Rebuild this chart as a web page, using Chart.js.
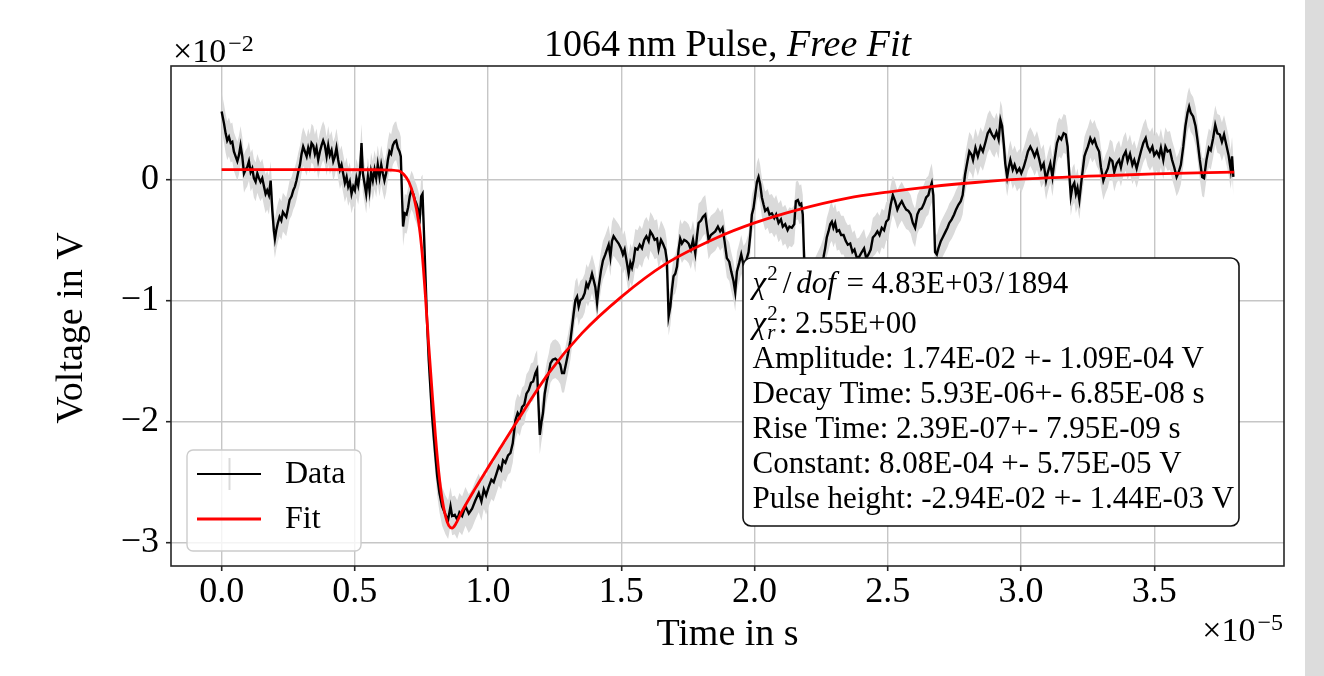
<!DOCTYPE html>
<html>
<head>
<meta charset="utf-8">
<title>1064 nm Pulse, Free Fit</title>
<script src="https://cdn.jsdelivr.net/npm/chart.js@4.4.0/dist/chart.umd.min.js"></script>
<style>
  html, body { margin: 0; padding: 0; background: #fff; }
  #wrap { position: relative; width: 1324px; height: 676px; overflow: hidden; }
  #pulseChart { position: absolute; left: 0; top: 0; }
  #strip { position: absolute; left: 1305px; top: 0; width: 19px; height: 676px; background: #dcdcdc; }
</style>
</head>
<body>
<div id="wrap">
  <canvas id="pulseChart" width="1305" height="676"></canvas>
  <div id="strip"></div>
</div>
<script>
// time in units of 1e-5 s, voltage in units of 1e-2 V
const dataTime = [
  0, 0.009, 0.015, 0.021, 0.0275, 0.034, 0.04, 0.046, 0.0525, 0.059,
  0.065, 0.071, 0.0775, 0.084, 0.09, 0.096, 0.1025, 0.109, 0.115, 0.121,
  0.1275, 0.134, 0.14, 0.146, 0.1525, 0.159, 0.165, 0.171, 0.1775, 0.184,
  0.19, 0.196, 0.2, 0.205, 0.211, 0.2175, 0.224, 0.23, 0.236, 0.2425,
  0.249, 0.255, 0.2625, 0.269, 0.275, 0.281, 0.2875, 0.294, 0.3, 0.306,
  0.3125, 0.319, 0.325, 0.331, 0.3375, 0.344, 0.35, 0.356, 0.3625, 0.369,
  0.375, 0.381, 0.3875, 0.394, 0.4, 0.406, 0.4125, 0.419, 0.425, 0.431,
  0.4375, 0.444, 0.45, 0.456, 0.4625, 0.469, 0.475, 0.481, 0.4875, 0.494,
  0.5, 0.506, 0.5125, 0.519, 0.525, 0.53, 0.536, 0.5425, 0.549, 0.555,
  0.561, 0.5675, 0.574, 0.58, 0.586, 0.5925, 0.599, 0.605, 0.611, 0.6175,
  0.624, 0.63, 0.636, 0.6425, 0.649, 0.655, 0.661, 0.6675, 0.6725, 0.6775,
  0.681, 0.6875, 0.694, 0.7, 0.706, 0.7125, 0.719, 0.725, 0.731, 0.7375,
  0.744, 0.749, 0.754, 0.759, 0.765, 0.771, 0.7775, 0.784, 0.79, 0.796,
  0.8025, 0.809, 0.8175, 0.8275, 0.84, 0.85, 0.859, 0.865, 0.875, 0.884,
  0.8925, 0.9025,
  0.915, 0.9275, 0.94, 0.9525, 0.965, 0.975, 0.984, 0.9925, 1.0025, 1.0125,
  1.021, 1.03, 1.04, 1.049, 1.056, 1.065, 1.075, 1.084, 1.0925, 1.1025,
  1.111, 1.119, 1.1275, 1.136, 1.144, 1.1525, 1.161, 1.169, 1.1775, 1.184,
  1.1875, 1.194, 1.2, 1.206, 1.2125, 1.221, 1.2275, 1.234, 1.2425, 1.2525,
  1.2625, 1.271, 1.2775, 1.285, 1.2925, 1.3, 1.309, 1.315, 1.321, 1.3275,
  1.334, 1.34, 1.346, 1.355, 1.3625, 1.369, 1.375, 1.384, 1.39, 1.396,
  1.4025, 1.409, 1.415, 1.424, 1.431, 1.44, 1.446, 1.4525, 1.459, 1.465,
  1.471, 1.48, 1.49, 1.499, 1.506, 1.5125, 1.521, 1.5275, 1.534, 1.54,
  1.546, 1.5525, 1.561, 1.569, 1.5775, 1.586, 1.594, 1.6025, 1.609, 1.6175,
  1.625, 1.634, 1.64, 1.649, 1.656, 1.665, 1.671, 1.6775, 1.684, 1.69,
  1.696, 1.7025, 1.709, 1.715, 1.721, 1.7275, 1.736, 1.744, 1.7525, 1.761,
  1.769, 1.7775, 1.784, 1.79, 1.799, 1.806, 1.815, 1.821, 1.8275, 1.836,
  1.8525, 1.8625, 1.871, 1.88, 1.8875, 1.896, 1.905, 1.9125, 1.921, 1.9275,
  1.934, 1.9425, 1.95, 1.959, 1.9675, 1.9775, 1.984, 1.99, 1.996, 2.0025,
  2.009, 2.015, 2.021, 2.0275, 2.034, 2.04, 2.049, 2.056, 2.065, 2.074,
  2.081, 2.09, 2.099, 2.106, 2.115, 2.124, 2.131, 2.14, 2.149, 2.155,
  2.1625, 2.169, 2.175, 2.181, 2.186, 2.195, 2.21, 2.225, 2.24, 2.25,
  2.259, 2.265, 2.271, 2.2775, 2.284, 2.29, 2.296, 2.3025, 2.309, 2.3175,
  2.325, 2.334, 2.3425, 2.35, 2.359, 2.3675, 2.375, 2.384, 2.3925, 2.4025,
  2.411, 2.419, 2.4275, 2.436, 2.444, 2.4525, 2.461, 2.469, 2.4775, 2.486,
  2.494, 2.5025, 2.511, 2.519, 2.5275, 2.536, 2.544, 2.5525, 2.561, 2.569,
  2.5775, 2.586, 2.594, 2.6025, 2.611, 2.619, 2.6275, 2.636, 2.644, 2.6525,
  2.659, 2.665, 2.671, 2.6775, 2.684, 2.69, 2.699, 2.706, 2.715, 2.724,
  2.731, 2.74, 2.749, 2.756, 2.765, 2.774, 2.781, 2.79, 2.799, 2.806,
  2.815, 2.82, 2.829, 2.838, 2.848, 2.857, 2.867, 2.875, 2.883, 2.891,
  2.9, 2.908, 2.916, 2.923, 2.929, 2.935, 2.941, 2.948, 2.954, 2.96,
  2.969, 2.976, 2.985, 2.994, 3.001, 3.01, 3.019, 3.026, 3.035, 3.044,
  3.051, 3.06, 3.069, 3.076, 3.085, 3.094, 3.101, 3.11, 3.118, 3.126,
  3.135, 3.143, 3.151, 3.16, 3.168, 3.175, 3.181, 3.187, 3.193, 3.2,
  3.206, 3.212, 3.219, 3.226, 3.232, 3.238, 3.244, 3.251, 3.26, 3.268,
  3.276, 3.284, 3.293, 3.3, 3.309, 3.318, 3.326, 3.334, 3.343, 3.35,
  3.359, 3.368, 3.375, 3.384, 3.393, 3.4, 3.409, 3.418, 3.425, 3.434,
  3.443, 3.45, 3.459, 3.468, 3.475, 3.484, 3.493, 3.5, 3.509, 3.518,
  3.525, 3.534, 3.542, 3.55, 3.559, 3.567, 3.575, 3.584, 3.592, 3.6,
  3.609, 3.617, 3.625, 3.631, 3.637, 3.646, 3.655, 3.662, 3.671, 3.68,
  3.687, 3.696, 3.705, 3.712, 3.721, 3.729, 3.737, 3.746, 3.754, 3.762,
  3.771, 3.779, 3.787, 3.792, 3.797
];
const dataVolt = [
  0.56, 0.46, 0.38, 0.32, 0.35, 0.30, 0.31, 0.23, 0.19, 0.15,
  0.20, 0.28, 0.19, 0.05, 0.08, 0.10, 0.15, 0.06, 0.09, 0.01,
  -0.02, 0.05, 0.01, -0.02, 0.01, -0.06, -0.12, -0.09, -0.13, -0.01,
  -0.25, -0.42, -0.49, -0.42, -0.36, -0.31, -0.34, -0.27, -0.29, -0.31,
  -0.24, -0.17, -0.14, -0.09, -0.06, -0.01, 0.06, 0.12, 0.21, 0.27,
  0.23, 0.19, 0.26, 0.21, 0.30, 0.28, 0.21, 0.26, 0.16, 0.23,
  0.28, 0.32, 0.28, 0.19, 0.28, 0.20, 0.24, 0.15, 0.19, 0.26,
  0.16, 0.08, 0.12, 0.05, -0.03, 0.02, -0.06, -0.02, -0.12, -0.06,
  -0.09, 0.01, -0.05, 0.05, 0.30, 0.05, -0.03, -0.12, 0.02, -0.09,
  0.06, -0.01, 0.08, 0.01, 0.12, 0.02, 0.12, 0.05, -0.01, 0.05,
  0.16, 0.23, 0.21, 0.28, 0.31, 0.32, 0.26, 0.23, 0.19, -0.17,
  -0.39, -0.28, -0.29, -0.23, -0.14, -0.09, -0.12, -0.17, -0.20, -0.25,
  -0.31, -0.14, -0.12, -0.42, -0.80, -1.18, -1.50, -1.74, -1.96, -2.12,
  -2.29, -2.45, -2.59, -2.70, -2.77, -2.81, -2.70, -2.78, -2.77, -2.81,
  -2.75, -2.78,
  -2.70, -2.76, -2.72, -2.65, -2.59, -2.66, -2.56, -2.61, -2.54, -2.48,
  -2.50, -2.44, -2.37, -2.40, -2.32, -2.34, -2.28, -2.26, -2.18, -1.99,
  -1.93, -1.96, -1.88, -1.86, -1.77, -1.74, -1.68, -1.67, -1.60, -1.57,
  -1.77, -2.11, -2.01, -1.93, -1.77, -1.66, -1.60, -1.52, -1.49, -1.48,
  -1.50, -1.53, -1.60, -1.60, -1.52, -1.44, -1.33, -1.22, -1.11, -1.00,
  -0.97, -1.05, -1.00, -0.98, -0.94, -0.86, -0.89, -0.83, -0.78, -0.83,
  -0.89, -1.02, -0.89, -0.75, -0.67, -0.62, -0.58, -0.54, -0.64, -0.51,
  -0.47, -0.50, -0.53, -0.57, -0.62, -0.58, -0.69, -0.78, -0.69, -0.73,
  -0.67, -0.57, -0.58, -0.54, -0.57, -0.50, -0.47, -0.51, -0.43, -0.46,
  -0.50, -0.49, -0.58, -0.50, -0.53, -0.58, -0.67, -1.13, -1.05, -0.91,
  -0.80, -0.78, -0.72, -0.58, -0.49, -0.53, -0.50, -0.51, -0.53, -0.58,
  -0.50, -0.61, -0.47, -0.36, -0.34, -0.31, -0.29, -0.39, -0.50, -0.46,
  -0.43, -0.39, -0.43, -0.40, -0.51, -0.65, -0.68, -0.76, -0.84, -0.93,
  -0.76, -0.69, -0.62, -0.71, -0.68, -0.60, -0.46, -0.29, -0.24, -0.13,
  -0.02, 0.02, -0.04, -0.15, -0.21, -0.26, -0.24, -0.29, -0.28, -0.32,
  -0.29, -0.36, -0.33, -0.39, -0.37, -0.42, -0.39, -0.40, -0.37, -0.18,
  -0.17, -0.21, -0.20, -0.29, -0.65, -0.85, -0.90, -0.82, -0.75, -0.70,
  -0.64, -0.57, -0.48, -0.43, -0.37, -0.35, -0.40, -0.36, -0.43, -0.42,
  -0.46, -0.46, -0.51, -0.54, -0.53, -0.60, -0.58, -0.65, -0.64, -0.60,
  -0.57, -0.65, -0.62, -0.58, -0.48, -0.46, -0.43, -0.46, -0.40, -0.42,
  -0.35, -0.33, -0.21, -0.13, -0.18, -0.25, -0.21, -0.18, -0.22, -0.25,
  -0.26, -0.29, -0.36, -0.40, -0.29, -0.25, -0.24, -0.20, -0.15, -0.13,
  -0.07, -0.03, -0.13, -0.60, -0.62, -0.57, -0.51, -0.48, -0.44, -0.40,
  -0.36, -0.33, -0.29, -0.25, -0.21, -0.18, -0.13, 0.04, 0.15, 0.23,
  0.20, 0.16, 0.26, 0.19, 0.27, 0.23, 0.31, 0.38, 0.41, 0.37,
  0.34, 0.39, 0.33, 0.49, 0.44, 0.30, 0.13, 0.02, 0.10, 0.16,
  0.08, 0.12, 0.06, 0.09, 0.05, 0.10, 0.17, 0.23, 0.27, 0.23,
  0.19, 0.24, 0.16, 0.09, 0.13, -0.01, 0.06, 0.13, 0.02, 0.16,
  0.30, 0.35, 0.33, 0.38, 0.37, 0.27, 0.05, -0.14, -0.06, -0.03,
  -0.12, -0.07, -0.17, -0.03, 0.08, 0.19, 0.23, 0.27, 0.34, 0.30,
  0.33, 0.27, 0.23, 0.10, -0.01, 0.05, 0.09, 0.17, 0.15, 0.06,
  0.13, 0.16, 0.10, 0.19, 0.23, 0.15, 0.21, 0.12, 0.16, 0.09,
  0.17, 0.23, 0.30, 0.34, 0.27, 0.23, 0.27, 0.20, 0.23, 0.19,
  0.26, 0.16, 0.27, 0.23, 0.24, 0.16, 0.10, 0.02, 0.06, 0.12,
  0.27, 0.44, 0.55, 0.60, 0.55, 0.52, 0.44, 0.33, 0.16, 0.02,
  0.01, 0.16, 0.26, 0.24, 0.34, 0.45, 0.38, 0.37, 0.31, 0.37,
  0.28, 0.20, 0.08, 0.19, 0.02
];
// measurement uncertainty per point (same units as dataVolt)
const voltErr = 0.16;

// fitted pulse model, sampled
const fitTime = [
  0, 0.3, 0.6, 0.665, 0.684, 0.7025, 0.721, 0.74, 0.7525, 0.765,
  0.7775, 0.79, 0.8025, 0.815, 0.8275, 0.84, 0.8525, 0.865, 0.8775, 0.9025,
  0.9525, 1.0, 1.1025, 1.2275, 1.3525, 1.5, 1.665, 1.85, 2.0, 2.165,
  2.35, 2.5, 2.665, 2.8275, 3.0, 3.31, 3.5, 3.8
];
const fitVolt = [
  0.081, 0.081, 0.079, 0.07, 0.04, -0.02, -0.14, -0.36, -0.61, -0.97,
  -1.38, -1.76, -2.12, -2.42, -2.64, -2.78, -2.86, -2.88, -2.85, -2.74,
  -2.55, -2.38, -2.02, -1.60, -1.27, -0.97, -0.70, -0.49, -0.36, -0.25,
  -0.155, -0.105, -0.06, -0.026, 0.002, 0.03, 0.045, 0.06
];

const xTicks = [0, 0.5, 1.0, 1.5, 2.0, 2.5, 3.0, 3.5];
const xTickLabels = ['0.0', '0.5', '1.0', '1.5', '2.0', '2.5', '3.0', '3.5'];
const yTicks = [-3, -2, -1, 0];
const yTickLabels = ['\u22123', '\u22122', '\u22121', '0'];

const chi2Text = '4.83E+03';
const dofText = '1894';
const chi2rText = '2.55E+00';
const paramLines = [
  'Amplitude: 1.74E-02 +- 1.09E-04 V',
  'Decay Time: 5.93E-06+- 6.85E-08 s',
  'Rise Time: 2.39E-07+- 7.95E-09 s',
  'Constant: 8.08E-04 +- 5.75E-05 V',
  'Pulse height: -2.94E-02 +- 1.44E-03 V'
];

const FONT = '"Liberation Serif", "DejaVu Serif", serif';
Chart.defaults.font.family = FONT;
Chart.defaults.color = '#000';

const toPoints = (xs, ys) => xs.map((x, i) => ({ x: x, y: ys[i] }));
const bandHi = dataVolt.map(v => v + voltErr);
const bandLo = dataVolt.map(v => v - voltErr);

// draws a run of text pieces (roman / italic / raised / lowered) on one baseline
function drawRuns(ctx, x, y, parts) {
  for (const p of parts) {
    ctx.font = (p.i ? 'italic ' : '') + (p.s || 31) + 'px ' + FONT;
    const dx = p.dx || 0;
    ctx.fillText(p.t, x + dx, y + (p.dy || 0));
    const w = p.w !== undefined ? p.w : ctx.measureText(p.t).width;
    x += dx + w;
  }
  return x;
}

function roundRect(ctx, x, y, w, h, r) {
  ctx.beginPath();
  ctx.moveTo(x + r, y);
  ctx.arcTo(x + w, y, x + w, y + h, r);
  ctx.arcTo(x + w, y + h, x, y + h, r);
  ctx.arcTo(x, y + h, x, y, r);
  ctx.arcTo(x, y, x + w, y, r);
  ctx.closePath();
}

const decorations = {
  id: 'decorations',
  afterDatasetsDraw(chart) {
    const { ctx, chartArea: a } = chart;
    ctx.save();
    ctx.strokeStyle = '#262626';
    ctx.lineWidth = 1.6;
    ctx.strokeRect(a.left, a.top, a.right - a.left, a.bottom - a.top);
    ctx.restore();
  },
  afterDraw(chart) {
    const { ctx, chartArea: a } = chart;
    const cx = (a.left + a.right) / 2;
    ctx.save();
    ctx.fillStyle = '#000';
    ctx.textBaseline = 'alphabetic';
    ctx.textAlign = 'left';

    // title
    ctx.font = '38px ' + FONT;
    const t1 = '1064\u2009nm Pulse, ';
    const w1 = ctx.measureText(t1).width;
    ctx.font = 'italic 38px ' + FONT;
    const t2 = 'Free Fit';
    const w2 = ctx.measureText(t2).width;
    drawRuns(ctx, cx - (w1 + w2) / 2, 56, [{ t: t1, s: 38 }, { t: t2, s: 38, i: true }]);

    // offset texts of the axes
    drawRuns(ctx, a.left + 2, 62, [{ t: '\u00d710', s: 34 }, { t: '\u22122', s: 24, dy: -11, dx: 2 }]);
    ctx.font = '34px ' + FONT;
    const wx = ctx.measureText('\u00d710').width;
    ctx.font = '24px ' + FONT;
    const wsup = ctx.measureText('\u22125').width;
    drawRuns(ctx, a.right - wx - wsup - 3, 641, [{ t: '\u00d710', s: 34 }, { t: '\u22125', s: 24, dy: -11, dx: 2 }]);

    // axis titles
    ctx.font = '38px ' + FONT;
    ctx.textAlign = 'center';
    ctx.fillText('Time in s', cx, 645);
    ctx.save();
    ctx.translate(82, 328);
    ctx.rotate(-Math.PI / 2);
    ctx.fillText('Voltage in V', 0, 0);
    ctx.restore();
    ctx.textAlign = 'left';

    // fit results box
    const bx = a.left + 572, by = a.top + 192, bw = 496, bh = 268;
    roundRect(ctx, bx, by, bw, bh, 8);
    ctx.fillStyle = '#fff';
    ctx.fill();
    ctx.strokeStyle = '#111';
    ctx.lineWidth = 1.6;
    ctx.stroke();
    ctx.fillStyle = '#000';
    const lx = bx + 9.5;
    drawRuns(ctx, lx, by + 34.5, [
      { t: '\u03c7', i: true }, { t: '2', s: 21, dy: -13, dx: 1 },
      { t: '/', dx: 5 }, { t: 'dof', i: true, dx: 5 },
      { t: ' = ' + chi2Text, dx: 3 }, { t: '/', dx: 2 }, { t: dofText, dx: 2 }
    ]);
    ctx.font = '21px ' + FONT;
    const w2sup = ctx.measureText('2').width;
    drawRuns(ctx, lx, by + 74.5, [
      { t: '\u03c7', i: true }, { t: '2', s: 21, dy: -13, dx: 1, w: 0 },
      { t: 'r', s: 21, i: true, dy: 6, w: w2sup }, { t: ': ' + chi2rText, dx: 1 }
    ]);
    ctx.font = '31px ' + FONT;
    paramLines.forEach((line, k) => {
      ctx.fillText(line, lx, by + 110 + k * 35);
    });

    // legend
    const data = chart.data.datasets;
    const gx = a.left + 16, gy = a.top + 384;
    roundRect(ctx, gx, gy, 174, 101, 6);
    ctx.fillStyle = 'rgba(255,255,255,0.8)';
    ctx.fill();
    ctx.strokeStyle = '#cccccc';
    ctx.lineWidth = 1.4;
    ctx.stroke();
    ctx.lineCap = 'butt';
    ctx.strokeStyle = data[2].backgroundColor;
    ctx.lineWidth = 2;
    ctx.beginPath();
    ctx.moveTo(gx + 42.5, gy + 8);
    ctx.lineTo(gx + 42.5, gy + 40);
    ctx.stroke();
    ctx.strokeStyle = data[1].borderColor;
    ctx.lineWidth = 2;
    ctx.beginPath();
    ctx.moveTo(gx + 10, gy + 24);
    ctx.lineTo(gx + 74, gy + 24);
    ctx.stroke();
    ctx.strokeStyle = data[0].borderColor;
    ctx.lineWidth = 3;
    ctx.beginPath();
    ctx.moveTo(gx + 10, gy + 69);
    ctx.lineTo(gx + 74, gy + 69);
    ctx.stroke();
    ctx.fillStyle = '#000';
    ctx.font = '32px ' + FONT;
    ctx.fillText(data[1].label, gx + 98, gy + 33);
    ctx.fillText(data[0].label, gx + 98, gy + 78);
    ctx.restore();
  }
};

new Chart(document.getElementById('pulseChart').getContext('2d'), {
  type: 'line',
  data: {
    datasets: [
      {
        label: 'Fit',
        data: toPoints(fitTime, fitVolt),
        borderColor: '#ff0000',
        borderWidth: 2.8,
        pointRadius: 0,
        cubicInterpolationMode: 'monotone',
        fill: false,
        order: 0
      },
      {
        label: 'Data',
        data: toPoints(dataTime, dataVolt),
        borderColor: '#000000',
        borderWidth: 2.4,
        pointRadius: 0,
        tension: 0,
        fill: false,
        order: 1
      },
      {
        label: 'upper',
        data: toPoints(dataTime, bandHi),
        borderColor: 'rgba(0,0,0,0)',
        backgroundColor: '#dadada',
        borderWidth: 0,
        pointRadius: 0,
        fill: '+1',
        order: 2
      },
      {
        label: 'lower',
        data: toPoints(dataTime, bandLo),
        borderColor: 'rgba(0,0,0,0)',
        borderWidth: 0,
        pointRadius: 0,
        fill: false,
        order: 3
      }
    ]
  },
  options: {
    responsive: false,
    animation: false,
    devicePixelRatio: 1,
    layout: { padding: { left: 0, right: 21, top: 66, bottom: 0 } },
    plugins: {
      legend: { display: false },
      title: { display: false },
      tooltip: { enabled: false }
    },
    scales: {
      x: {
        type: 'linear',
        min: -0.19,
        max: 3.987,
        afterBuildTicks: s => { s.ticks = xTicks.map(v => ({ value: v })); },
        afterFit: s => { s.height = 110; },
        ticks: {
          callback: (v, i) => xTickLabels[i],
          font: { size: 36 },
          color: '#000',
          padding: 0,
          maxRotation: 0,
          autoSkip: false
        },
        grid: { color: '#c6c6c6', lineWidth: 1.4, tickColor: '#262626', tickWidth: 1.6, tickLength: 5 },
        border: { display: false }
      },
      y: {
        type: 'linear',
        min: -3.193,
        max: 0.936,
        afterBuildTicks: s => { s.ticks = yTicks.map(v => ({ value: v })); },
        afterFit: s => { s.width = 171; },
        ticks: {
          callback: (v, i) => yTickLabels[i],
          font: { size: 36 },
          color: '#000',
          padding: 7,
          autoSkip: false
        },
        grid: { color: '#c6c6c6', lineWidth: 1.4, tickColor: '#262626', tickWidth: 1.6, tickLength: 5 },
        border: { display: false }
      }
    }
  },
  plugins: [decorations]
});
</script>
</body>
</html>
